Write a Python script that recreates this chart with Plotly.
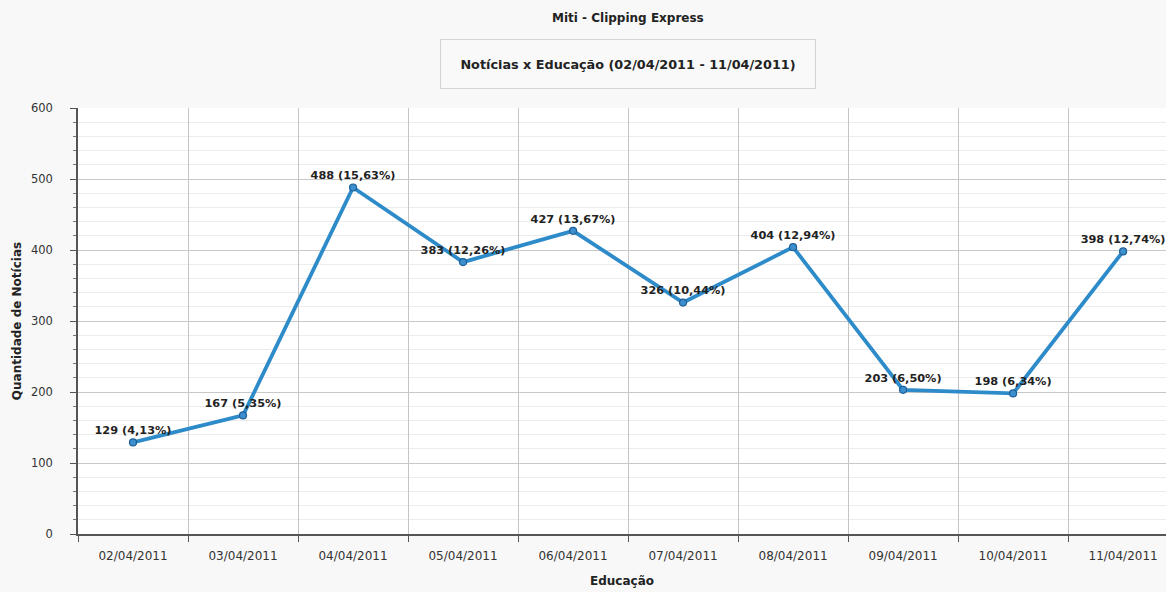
import plotly.graph_objects as go

dates = ["02/04/2011", "03/04/2011", "04/04/2011", "05/04/2011", "06/04/2011",
         "07/04/2011", "08/04/2011", "09/04/2011", "10/04/2011", "11/04/2011"]
counts = [129, 167, 488, 383, 427, 326, 404, 203, 198, 398]
percents = ["4,13%", "5,35%", "15,63%", "12,26%", "13,67%",
            "10,44%", "12,94%", "6,50%", "6,34%", "12,74%"]
labels = [f"{c} ({p})" for c, p in zip(counts, percents)]

FONT = "DejaVu Sans"
W, H = 1166, 592
ML, MR, MT, MB = 78, 0, 108, 58

fig = go.Figure()
fig.add_trace(go.Scatter(
    x=dates, y=counts, mode="lines+markers+text",
    text=labels, textposition="top center",
    textfont=dict(family=FONT, size=11.3, color="#222222", weight="bold"),
    line=dict(color="#2e8bc9", width=3.8),
    marker=dict(size=7, color="#3d8fce", line=dict(color="#1e5f98", width=1.2)),
    cliponaxis=False,
    showlegend=False,
))

fig.update_layout(
    width=W, height=H,
    margin=dict(l=ML, r=MR, t=MT, b=MB),
    paper_bgcolor="#f8f8f8",
    plot_bgcolor="#ffffff",
    font=dict(family=FONT, size=11, color="#333333"),
)

plot_h = H - MT - MB
def py(pix):
    return (H - MB - pix) / plot_h

fig.add_annotation(text="<b>Miti - Clipping Express</b>", x=4.5, xref="x", y=py(18), yref="paper",
                   yanchor="middle", xanchor="center", showarrow=False,
                   font=dict(family=FONT, size=12, color="#222222"))
fig.add_annotation(text="<b>Notícias x Educação (02/04/2011 - 11/04/2011)</b>", x=4.5, xref="x",
                   y=py(64), yref="paper", yanchor="middle", xanchor="center", showarrow=False,
                   width=372, height=46, bordercolor="#d4d4d4", borderwidth=1, bgcolor="#f9f9f9",
                   font=dict(family=FONT, size=12.8, color="#222222"))

fig.update_xaxes(
    type="category", range=[-0.5, 9.39], tickson="boundaries",
    ticks="outside", ticklen=6, tickcolor="#555555", ticklabelstandoff=10,
    showgrid=True, gridcolor="#c4c4c4", gridwidth=1,
    showline=True, linecolor="#555555", linewidth=1.5,
    tickfont=dict(family=FONT, size=12, color="#333333"),
    title=dict(text="<b>Educação</b>", font=dict(family=FONT, size=12, color="#222222"), standoff=14),
    zeroline=False,
)
fig.update_yaxes(
    range=[0, 600], dtick=100, ticks="outside", ticklen=6, tickcolor="#555555", ticklabelstandoff=15,
    showgrid=True, gridcolor="#c8c8c8", gridwidth=1,
    minor=dict(dtick=20, showgrid=True, gridcolor="#ececec", ticks="outside", ticklen=3, tickcolor="#777777"),
    showline=True, linecolor="#555555", linewidth=1.5,
    tickfont=dict(family=FONT, size=11.5, color="#333333"),
    title=dict(text="<b>Quantidade de Notícias</b>", font=dict(family=FONT, size=12, color="#222222"), standoff=7),
    zeroline=False,
)

fig.write_html("out.html", config={"displayModeBar": False},
               post_script="document.body.style.margin='0';document.body.style.background='#f8f8f8';")
